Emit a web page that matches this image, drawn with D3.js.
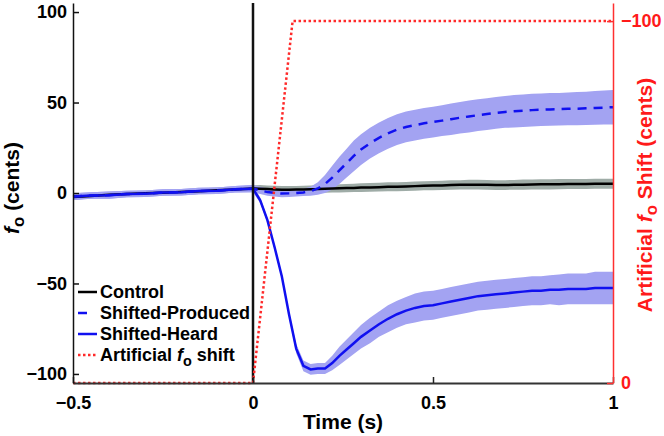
<!DOCTYPE html>
<html><head><meta charset="utf-8">
<script src="https://cdn.jsdelivr.net/npm/d3@7"></script>
<style>
body{margin:0;background:#fff;}
svg{display:block;font-family:"Liberation Sans",Arial,sans-serif;font-weight:bold;}
</style></head>
<body><svg id="c" width="664" height="436"></svg>
<script>
const time = [-0.5,-0.45,-0.4,-0.35,-0.3,-0.25,-0.2,-0.15,-0.1,-0.05,0,
 0.02,0.04,0.06,0.08,0.10,0.12,0.14,0.16,0.18,0.20,0.22,0.24,0.26,0.28,0.30,
 0.325,0.35,0.375,0.40,0.425,0.45,0.475,0.50,0.525,0.55,0.575,0.60,0.625,0.65,0.675,
 0.70,0.725,0.75,0.775,0.80,0.825,0.85,0.875,0.90,0.925,0.95,0.975,1.0];

const control = [-2.2,-1.6,-1.0,-0.6,-0.2,0.2,0.6,1.0,1.5,2.0,2.5,
 2.4,2.2,2.0,1.8,1.8,1.9,2.0,2.1,2.2,2.4,2.5,2.6,2.7,2.8,3.0,
 3.1,3.2,3.4,3.5,3.6,3.8,4.0,4.1,4.2,4.4,4.5,4.6,4.6,4.5,4.4,
 4.4,4.5,4.6,4.7,4.8,4.8,4.9,5.0,5.0,5.0,5.1,5.1,5.1];
const controlSE = [1.5,1.5,1.5,1.5,1.5,1.5,1.5,1.5,1.5,1.5,1.8,
 2,2,2,2,2,2,2,2,2.2,2.2,2.2,2.3,2.3,2.3,2.4,
 2.4,2.4,2.5,2.5,2.5,2.5,2.5,2.6,2.6,2.6,2.6,2.7,2.7,2.7,2.7,
 2.7,2.7,2.8,2.8,2.8,2.8,2.8,2.8,2.8,2.8,2.8,2.8,2.8];

const produced = [-2.0,-1.4,-1.2,-0.5,-0.4,0.3,0.4,1.1,1.3,2.1,2.4,
 1.5,0.5,0,-0.3,-0.2,0,0.3,1,2.5,5,8.5,12.5,16.5,20.5,24,
 27.5,30.5,33,35,36.5,37.5,38.5,39.2,40,40.8,41.6,42.3,43,43.6,44.3,
 44.8,45.2,45.5,45.8,46,46.2,46.3,46.5,46.6,46.8,47,47.2,47.4];
const producedSE = [1.8,1.8,2,1.8,1.8,1.8,1.8,1.8,1.8,1.8,2,
 2,2,2,2,2,2,2,2.5,3.5,5,6.5,7.5,8,8.5,8.5,
 8.5,8.5,8.5,8.5,8.5,8.5,8.5,8.5,8.5,8.7,8.7,8.8,8.8,8.8,8.8,
 8.8,9,9,9,9,9,9,9,9.2,9.2,9.3,9.4,9.5];

const heard = [-2.0,-1.4,-1.2,-0.5,-0.4,0.3,0.4,1.1,1.3,2.1,2.4,
 -4,-15,-30,-46,-67,-86,-95.5,-97.5,-97,-97,-94,-90,-86.5,-83,-79.5,
 -76,-72.5,-69.5,-67,-65,-63.5,-62.5,-62,-61,-60,-59,-58,-57,-56.5,-56,
 -55.5,-55,-54.5,-54,-54,-53.5,-53.5,-53,-53,-53,-52.5,-52.5,-52.5];
const heardSE = [1.8,1.8,2,1.8,1.8,1.8,1.8,1.8,1.8,1.8,2,
 1.5,1.5,1.5,1.5,1.5,2.5,3,3,3,3,4,5,5.5,6,6.5,
 7,7,7.5,7.5,7.5,8,8,8,8,8,8,8,8,8,8,
 8,8,8,8,8,8,8.5,8.5,8.5,8.5,9,9,9];

const shiftTime = [-0.5, 0, 0.11, 1.0];
const shiftValues = [0, 0, -100, -100];

const xTicks = [-0.5, 0, 0.5, 1];
const yTicks = [-100, -50, 0, 50, 100];
const yRightTicks = [0, -100];
const legendLabels = ["Control", "Shifted-Produced", "Shifted-Heard", "Artificial f_o shift"];

const svg = d3.select("#c");
const L = 73, R = 613, T = 3, B = 383;
const x = d3.scaleLinear().domain([-0.5, 1]).range([L, R]);
const y = d3.scaleLinear().domain([-105, 105]).range([B, T]);
const y2 = d3.scaleLinear().domain([0, -105]).range([B, T]);

const idx = d3.range(time.length);
function band(vals, se){
  return d3.area().x(i=>x(time[i])).y0(i=>y(vals[i]-se[i])).y1(i=>y(vals[i]+se[i]))(idx);
}
function line(vals){ return d3.line().x(i=>x(time[i])).y(i=>y(vals[i]))(idx); }

svg.append("path").attr("d", band(control, controlSE)).attr("fill","#8e9e98").attr("opacity",0.85);
svg.append("path").attr("d", band(produced, producedSE)).attr("fill","#a3a3f2");
svg.append("path").attr("d", band(heard, heardSE)).attr("fill","#a3a3f2");

svg.append("path").attr("d", line(control)).attr("fill","none").attr("stroke","#000").attr("stroke-width",2.5);
svg.append("path").attr("d", line(produced)).attr("fill","none").attr("stroke","#1010f0").attr("stroke-width",2.5).attr("stroke-dasharray","9,7");
svg.append("path").attr("d", line(heard)).attr("fill","none").attr("stroke","#1010f0").attr("stroke-width",2.5);

// onset line
svg.append("line").attr("x1",x(0)).attr("x2",x(0)).attr("y1",T).attr("y2",B).attr("stroke","#111").attr("stroke-width",2.5);

// shift
svg.append("path").attr("d", d3.line().x((d,i)=>x(shiftTime[i])).y(d=>y2(d))(shiftValues))
  .attr("fill","none").attr("stroke","#ff2a2a").attr("stroke-width",2.5).attr("stroke-dasharray","2.5,2.5");

// axes
const ax = svg.append("g").attr("transform",`translate(0,${B})`)
  .call(d3.axisBottom(x).tickValues(xTicks).tickSizeInner(-6).tickSizeOuter(0).tickFormat(d3.format("")));
ax.select(".domain").attr("stroke","#333").attr("stroke-width",2);
ax.selectAll(".tick line").attr("stroke","#222").attr("stroke-width",1.5);
ax.selectAll("text").attr("font-size",18).attr("font-weight","bold").attr("fill","#000").attr("dy","1.25em").attr("font-family","Liberation Sans, Arial, sans-serif");

const ay = svg.append("g").attr("transform",`translate(${L},0)`)
  .call(d3.axisLeft(y).tickValues(yTicks).tickSizeInner(-6).tickSizeOuter(0));
ay.select(".domain").attr("stroke","#111").attr("stroke-width",1.5);
ay.selectAll(".tick line").attr("stroke","#111").attr("stroke-width",1.5);
ay.selectAll("text").attr("font-size",18).attr("font-weight","bold").attr("fill","#000").attr("x",-6).attr("font-family","Liberation Sans, Arial, sans-serif");

const ar = svg.append("g").attr("transform",`translate(${R},0)`)
  .call(d3.axisRight(y2).tickValues(yRightTicks).tickSizeInner(-6).tickSizeOuter(0).tickFormat(d3.format("d")));
ar.select(".domain").attr("stroke","#ff3030").attr("stroke-width",1.5);
ar.selectAll(".tick line").attr("stroke","#ff3030").attr("stroke-width",1.5);
ar.selectAll("text").attr("font-size",18).attr("font-weight","bold").attr("fill","#ff1a1a").attr("x",8).attr("font-family","Liberation Sans, Arial, sans-serif");

// axis titles
svg.append("text").attr("x",(L+R)/2).attr("y",429).attr("text-anchor","middle").attr("font-size",21).text("Time (s)");

function fLabel(sel, rest){
  sel.append("tspan").attr("font-style","italic").text("f");
  sel.append("tspan").attr("dy",5).attr("font-size","0.8em").text("o");
  sel.append("tspan").attr("dy",-5).text(rest);
}
const yl = svg.append("text").attr("transform","translate(19,188) rotate(-90)").attr("text-anchor","middle").attr("font-size",21);
fLabel(yl, " (cents)");
const yr = svg.append("text").attr("transform","translate(652,195) rotate(-90)").attr("text-anchor","middle").attr("font-size",21).attr("fill","#ff1a1a");
yr.append("tspan").text("Artificial ");
fLabel(yr, " Shift (cents)");

// legend
const legY = [292, 313, 334, 355];
const legStyles = [
  {c:"#000", d:null},
  {c:"#1010f0", d:"9,30"},
  {c:"#1010f0", d:null},
  {c:"#ff2a2a", d:"2.5,2.5"}
];
legendLabels.forEach((lab,i)=>{
  svg.append("line").attr("x1",78).attr("x2",97).attr("y1",legY[i]).attr("y2",legY[i])
    .attr("stroke",legStyles[i].c).attr("stroke-width",2.5).attr("stroke-dasharray",legStyles[i].d);
  const t = svg.append("text").attr("x",100).attr("y",legY[i]).attr("dy","0.35em").attr("font-size",18);
  if(lab.includes("f_o")){
    t.append("tspan").text("Artificial ");
    fLabel(t, " shift");
  } else t.text(lab);
});
</script></body></html>
